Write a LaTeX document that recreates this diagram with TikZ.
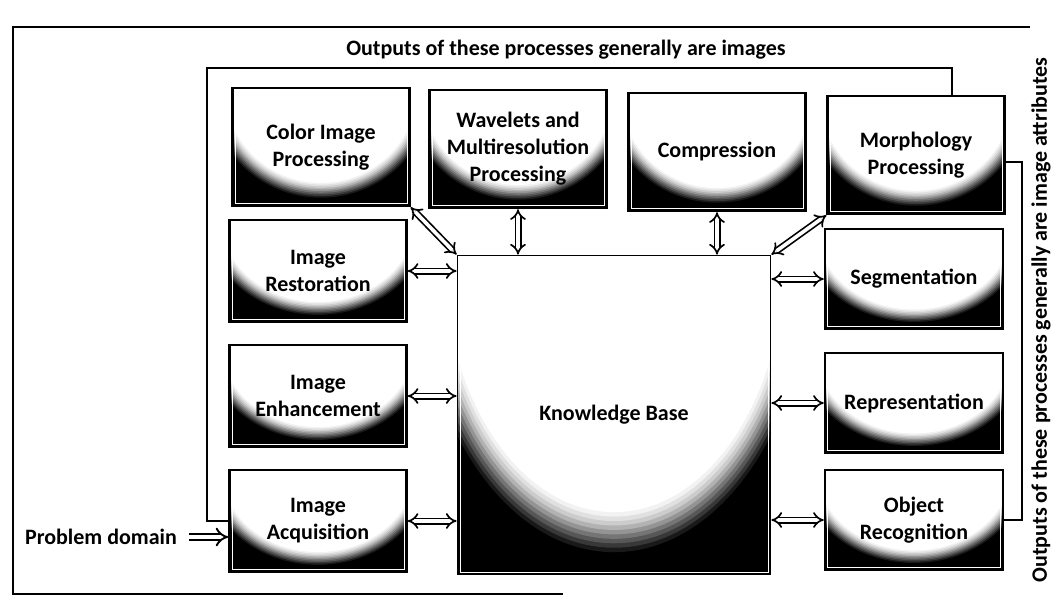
\documentclass[tikz,border=0pt]{standalone}
\usepackage{fontspec}
\setmainfont{Carlito}
\usetikzlibrary{positioning,arrows.meta,calc}
% dark corners, white bowl under the top edge
\newcommand{\bowlfill}{%
  \fill[black] (path picture bounding box.south west) rectangle (path picture bounding box.north east);
  \foreach \rad/\shd in {1.0/90,0.985/78,0.97/66,0.955/54,0.94/42,0.925/30,0.91/20,0.895/12,0.88/5,0.865/0}{
    \fill[black!\shd] let \p1=($(path picture bounding box.north east)-(path picture bounding box.south west)$) in
      (path picture bounding box.north) ellipse [x radius={0.63*\rad*\x1}, y radius={0.93*\rad*\y1}];}%
  \draw[white, line width=0.8pt] ([shift={(2.4pt,2.4pt)}]path picture bounding box.south west)
     rectangle ([shift={(-2.4pt,-2.4pt)}]path picture bounding box.north east);}
\tikzset{
  proc/.style   ={draw=black, line width=2.4pt, minimum width=177pt, minimum height=102pt,
                  inner sep=2pt, align=center, font=\fontsize{22}{27}\selectfont\bfseries,
                  path picture={\bowlfill}},
  toprow/.style ={proc, minimum height=118pt},
  kbox/.style   ={proc, minimum width=313pt, minimum height=319pt, line width=1.8pt},
  lbl/.style    ={font=\fontsize{22}{27}\selectfont\bfseries, inner sep=0pt},
  link/.style   ={double, double distance=3.6pt, line width=1.7pt, {Implies}-{Implies}},
  inlet/.style  ={double, double distance=4.4pt, line width=1.9pt, -{Implies}},
  feed/.style   ={line width=1.6pt},
  frame/.style  ={line width=1.2pt},
}
\begin{document}
\begin{tikzpicture}[x=1pt, y=-1pt]
  \useasboundingbox (0,0) rectangle (1052,603);
  % outer frame
  \draw[frame] (1030,27) -- (13,27) -- (13,594) -- (563,594);
  % top row of processes
  \foreach \nm/\px/\py/\txt in {color/321/147/{Color Image\\Processing},
      wavelets/518/149/{Wavelets and\\Multiresolution\\Processing},
      compression/717/152/{Compression}, morph/916/155/{Morphology\\Processing}}
    \node[toprow] (\nm) at (\px,\py) {\txt};
  % left column
  \foreach \nm/\py/\txt in {restoration/271/{Image\\Restoration},
      enhancement/396/{Image\\Enhancement}, acquisition/521/{Image\\Acquisition}}
    \node[proc] (\nm) at (318,\py) {\txt};
  % right column
  \foreach \nm/\py/\txt in {segmentation/279/{Segmentation},
      representation/403/{Representation}, objrec/520/{Object\\Recognition}}
    \node[proc, minimum width=178pt, minimum height=100pt] (\nm) at (914,\py) {\txt};
  % knowledge base
  \node[kbox] (kb) at (614,415) {Knowledge Base};
  % labels
  \node[lbl] (imgout) at (566,50) {Outputs of these processes generally are images};
  \node[lbl, rotate=90] (attrout) at (1041,320) {Outputs of these processes generally are image attributes};
  \node[lbl] (domain) at (101,537) {Problem domain};
  % links to the knowledge base
  \draw[link] (color.south east) -- (kb.north west);
  \draw[link] (wavelets.south) -- (wavelets.south |- kb.north);
  \draw[link] (compression.south) -- (compression.south |- kb.north);
  \draw[link] (kb.north east) -- (morph.south west);
  \foreach \nm in {restoration,enhancement,acquisition}
    \draw[link] (\nm.east) -- (\nm.east -| kb.west);
  \foreach \nm in {segmentation,representation,objrec}
    \draw[link] (kb.east |- \nm.west) -- (\nm.west);
  % input and feedback lines
  \draw[inlet] ([xshift=12pt]domain.east) -- (domain.east -| acquisition.west);
  \coordinate (fbtop) at (207,68);
  \draw[feed] (acquisition.west) -| (fbtop) -| ([xshift=36pt]morph.north);
  \draw[feed] ([yshift=-7pt]morph.east) -- ++(16pt,0) |- (objrec.east);
\end{tikzpicture}
\end{document}
